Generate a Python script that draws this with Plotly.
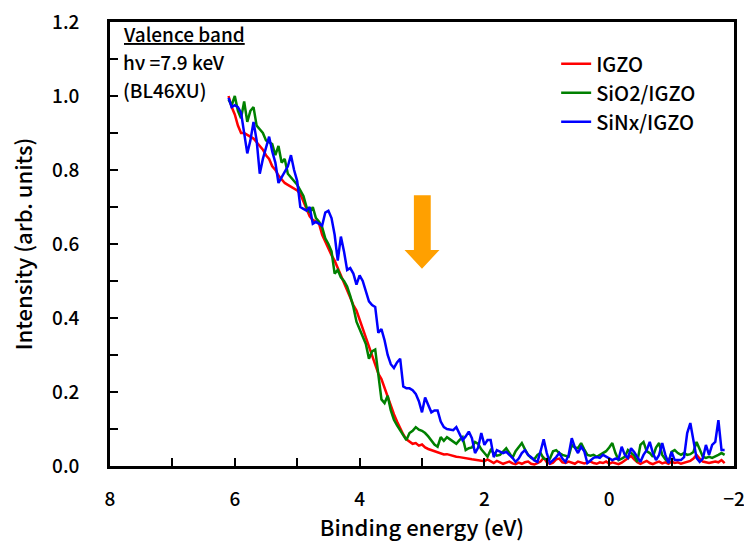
import plotly.graph_objects as go

# Binding energy grid (eV), 6.10 -> -1.85 in 0.05 eV steps
energy = [round(6.10 - 0.05 * i, 2) for i in range(160)]

igzo = [
    1.00, 0.97, 0.95, 0.92, 0.90, 0.90, 0.895, 0.89, 0.885, 0.875,
    0.865, 0.855, 0.84, 0.83, 0.81, 0.80, 0.785, 0.775, 0.765, 0.76,
    0.755, 0.75, 0.745, 0.735, 0.715, 0.695, 0.675, 0.665, 0.66, 0.655,
    0.625, 0.605, 0.585, 0.57, 0.555, 0.535, 0.515, 0.495, 0.47, 0.45,
    0.435, 0.42, 0.395, 0.37, 0.345, 0.32, 0.295, 0.27, 0.25, 0.235,
    0.21, 0.185, 0.16, 0.14, 0.12, 0.10, 0.085, 0.072, 0.065, 0.06,
    0.062, 0.055, 0.058, 0.05, 0.046, 0.043, 0.04, 0.037, 0.034, 0.031,
    0.032, 0.029, 0.028, 0.025, 0.024, 0.022, 0.02, 0.019, 0.018, 0.017,
    0.016, 0.014, 0.013, 0.018, 0.012, 0.008, 0.014, 0.01, 0.006, 0.009,
    0.012, 0.007, 0.005, 0.009, 0.006, 0.01, 0.012, 0.006, 0.004, 0.008,
    0.012, 0.022, 0.01, 0.006, 0.009, 0.018, 0.02, 0.01, 0.008, 0.012,
    0.008, 0.006, 0.012, 0.01, 0.007, 0.009, 0.012, 0.008, 0.006, 0.01,
    0.008, 0.012, 0.006, 0.01, 0.008, 0.005, 0.009, 0.015, 0.02, 0.027,
    0.018, 0.01, 0.006, 0.01, 0.014, 0.008, 0.005, 0.009, 0.012, 0.007,
    0.01, 0.006, 0.012, 0.008, 0.01, 0.006, 0.009, 0.012, 0.014, 0.02,
    0.03, 0.02, 0.012, 0.01, 0.008, 0.01, 0.012, 0.01, 0.016, 0.008,
]

sio2_igzo = [
    0.99, 0.975, 1.00, 0.96, 0.94, 0.985, 0.93, 0.96, 0.97, 0.92,
    0.91, 0.90, 0.88, 0.875, 0.87, 0.84, 0.865, 0.82, 0.83, 0.79,
    0.78, 0.77, 0.76, 0.745, 0.73, 0.70, 0.685, 0.70, 0.67, 0.66,
    0.645, 0.615, 0.60, 0.58, 0.52, 0.53, 0.51, 0.50, 0.485, 0.46,
    0.43, 0.39, 0.37, 0.355, 0.33, 0.29, 0.31, 0.315, 0.24, 0.18,
    0.17, 0.19, 0.15, 0.125, 0.11, 0.097, 0.085, 0.07, 0.089, 0.095,
    0.105, 0.098, 0.095, 0.089, 0.08, 0.07, 0.058, 0.052, 0.078, 0.068,
    0.078, 0.072, 0.065, 0.06, 0.07, 0.078, 0.043, 0.048, 0.05, 0.065,
    0.06, 0.045, 0.035, 0.025, 0.043, 0.035, 0.028, 0.03, 0.04, 0.048,
    0.035, 0.022, 0.04, 0.052, 0.062, 0.045, 0.03, 0.022, 0.018, 0.03,
    0.035, 0.02, 0.018, 0.02, 0.04, 0.043, 0.035, 0.03, 0.028, 0.025,
    0.057, 0.05, 0.048, 0.062, 0.045, 0.03, 0.028, 0.03, 0.025, 0.03,
    0.035, 0.04, 0.05, 0.062, 0.035, 0.016, 0.02, 0.025, 0.043, 0.035,
    0.028, 0.011, 0.057, 0.065, 0.04, 0.035, 0.025, 0.05, 0.062, 0.03,
    0.018, 0.011, 0.038, 0.043, 0.035, 0.03, 0.035, 0.03, 0.032, 0.038,
    0.065, 0.045, 0.025, 0.022, 0.025, 0.022, 0.025, 0.03, 0.035, 0.03,
]

sinx_igzo = [
    0.995, 0.97, 0.975, 0.97, 0.955, 0.90, 0.845, 0.88, 0.93, 0.88,
    0.79, 0.83, 0.86, 0.89, 0.85, 0.82, 0.765, 0.78, 0.795, 0.81,
    0.84, 0.80, 0.77, 0.70, 0.695, 0.69, 0.70, 0.655, 0.66, 0.655,
    0.65, 0.685, 0.69, 0.67, 0.625, 0.555, 0.62, 0.58, 0.53, 0.535,
    0.52, 0.49, 0.515, 0.50, 0.47, 0.445, 0.435, 0.43, 0.36, 0.37,
    0.34, 0.30, 0.275, 0.265, 0.28, 0.29, 0.215, 0.21, 0.21, 0.205,
    0.195, 0.175, 0.145, 0.185, 0.165, 0.145, 0.15, 0.15, 0.12, 0.105,
    0.10, 0.098, 0.097, 0.105, 0.085, 0.07, 0.08, 0.093, 0.075, 0.035,
    0.05, 0.089, 0.057, 0.07, 0.07, 0.024, 0.043, 0.038, 0.035, 0.038,
    0.03, 0.022, 0.011, 0.02, 0.035, 0.043, 0.03, 0.024, 0.015, 0.011,
    0.04, 0.072, 0.035, 0.008, 0.016, 0.024, 0.035, 0.02, 0.011, 0.03,
    0.075, 0.05, 0.035, 0.052, 0.04, 0.008, 0.015, 0.022, 0.024, 0.022,
    0.03, 0.026, 0.022, 0.016, 0.02, 0.018, 0.052, 0.03, 0.022, 0.048,
    0.038, 0.025, 0.011, 0.03, 0.043, 0.065, 0.035, 0.016, 0.03, 0.062,
    0.03, 0.008, 0.038, 0.016, 0.016, 0.016, 0.024, 0.089, 0.116, 0.07,
    0.022, 0.011, 0.02, 0.057, 0.03, 0.057, 0.065, 0.124, 0.043, 0.043,
]

series_names = ["IGZO", "SiO2/IGZO", "SiNx/IGZO"]
series_values = [igzo, sio2_igzo, sinx_igzo]
series_colors = ["#ff0000", "#008000", "#0000ff"]

x_ticks = [8, 6, 4, 2, 0, -2]
x_tick_labels = ["8", "6", "4", "2", "0", "\u22122"]
y_ticks = [0.0, 0.2, 0.4, 0.6, 0.8, 1.0, 1.2]
y_tick_labels = ["0.0", "0.2", "0.4", "0.6", "0.8", "1.0", "1.2"]

info_lines = ["<span style='text-decoration:underline'>Valence band</span>",
              "h\u03bd =7.9 keV", "(BL46XU)"]

FONT = "Noto Sans CJK JP"
W = 500

fig = go.Figure()
for name, vals, col in zip(series_names, series_values, series_colors):
    fig.add_trace(go.Scatter(x=energy, y=vals, mode="lines", name=name,
                             line=dict(color=col, width=2.5)))

# Orange arrow pointing down at ~3 eV
fig.add_shape(type="path",
              path="M 3.13,0.732 L 2.86,0.732 L 2.86,0.584 L 2.72,0.584 L 3.0,0.533 L 3.28,0.584 L 3.13,0.584 Z",
              xref="x", yref="y", fillcolor="#ffa000", line=dict(width=0))

for i, txt in enumerate(info_lines):
    fig.add_annotation(x=0.017, y=0.973 - i * 0.062, xref="paper", yref="paper",
                       xanchor="left", yanchor="middle", showarrow=False, text=txt,
                       font=dict(family=FONT, size=19, color="black", weight=W))

fig.update_layout(
    width=744, height=542,
    margin=dict(l=110, r=10, t=22, b=76, autoexpand=False),
    paper_bgcolor="white", plot_bgcolor="white",
    font=dict(family=FONT, size=17, color="black", weight=W),
    showlegend=True,
    legend=dict(x=0.715, y=0.95, xanchor="left", yanchor="top",
                bgcolor="rgba(0,0,0,0)", font=dict(family=FONT, size=20, weight=W),
                tracegroupgap=0, itemwidth=30),
    xaxis=dict(range=[8, -2], tickmode="array", tickvals=x_ticks, ticktext=x_tick_labels,
               ticks="inside", ticklen=8, tickwidth=2, tickcolor="black",
               minor=dict(dtick=1, ticks="inside", ticklen=8, tickwidth=2, tickcolor="black"),
               showline=True, linecolor="black", linewidth=2.5, mirror=True,
               showgrid=False, zeroline=False, ticklabelstandoff=14,
               automargin=False, ticklabeloverflow="allow",
               tickfont=dict(family=FONT, size=19, weight=W),
               title=dict(text="Binding energy (eV)", font=dict(family=FONT, size=22, weight=W), standoff=4)),
    yaxis=dict(range=[0, 1.2], tickmode="array", tickvals=y_ticks, ticktext=y_tick_labels,
               ticks="inside", ticklen=8, tickwidth=2, tickcolor="black",
               minor=dict(dtick=0.1, ticks="inside", ticklen=8, tickwidth=2, tickcolor="black"),
               showline=True, linecolor="black", linewidth=2.5, mirror=True,
               showgrid=False, zeroline=False, ticklabelstandoff=24, automargin=False,
               ticklabeloverflow="allow",
               tickfont=dict(family=FONT, size=19, weight=W),
               title=dict(text="Intensity (arb. units)", font=dict(family=FONT, size=22, weight=W), standoff=14)),
)

fig.write_html("out.html", config={"displayModeBar": False},
               post_script="document.body.style.margin='0';document.body.style.overflow='hidden';")
